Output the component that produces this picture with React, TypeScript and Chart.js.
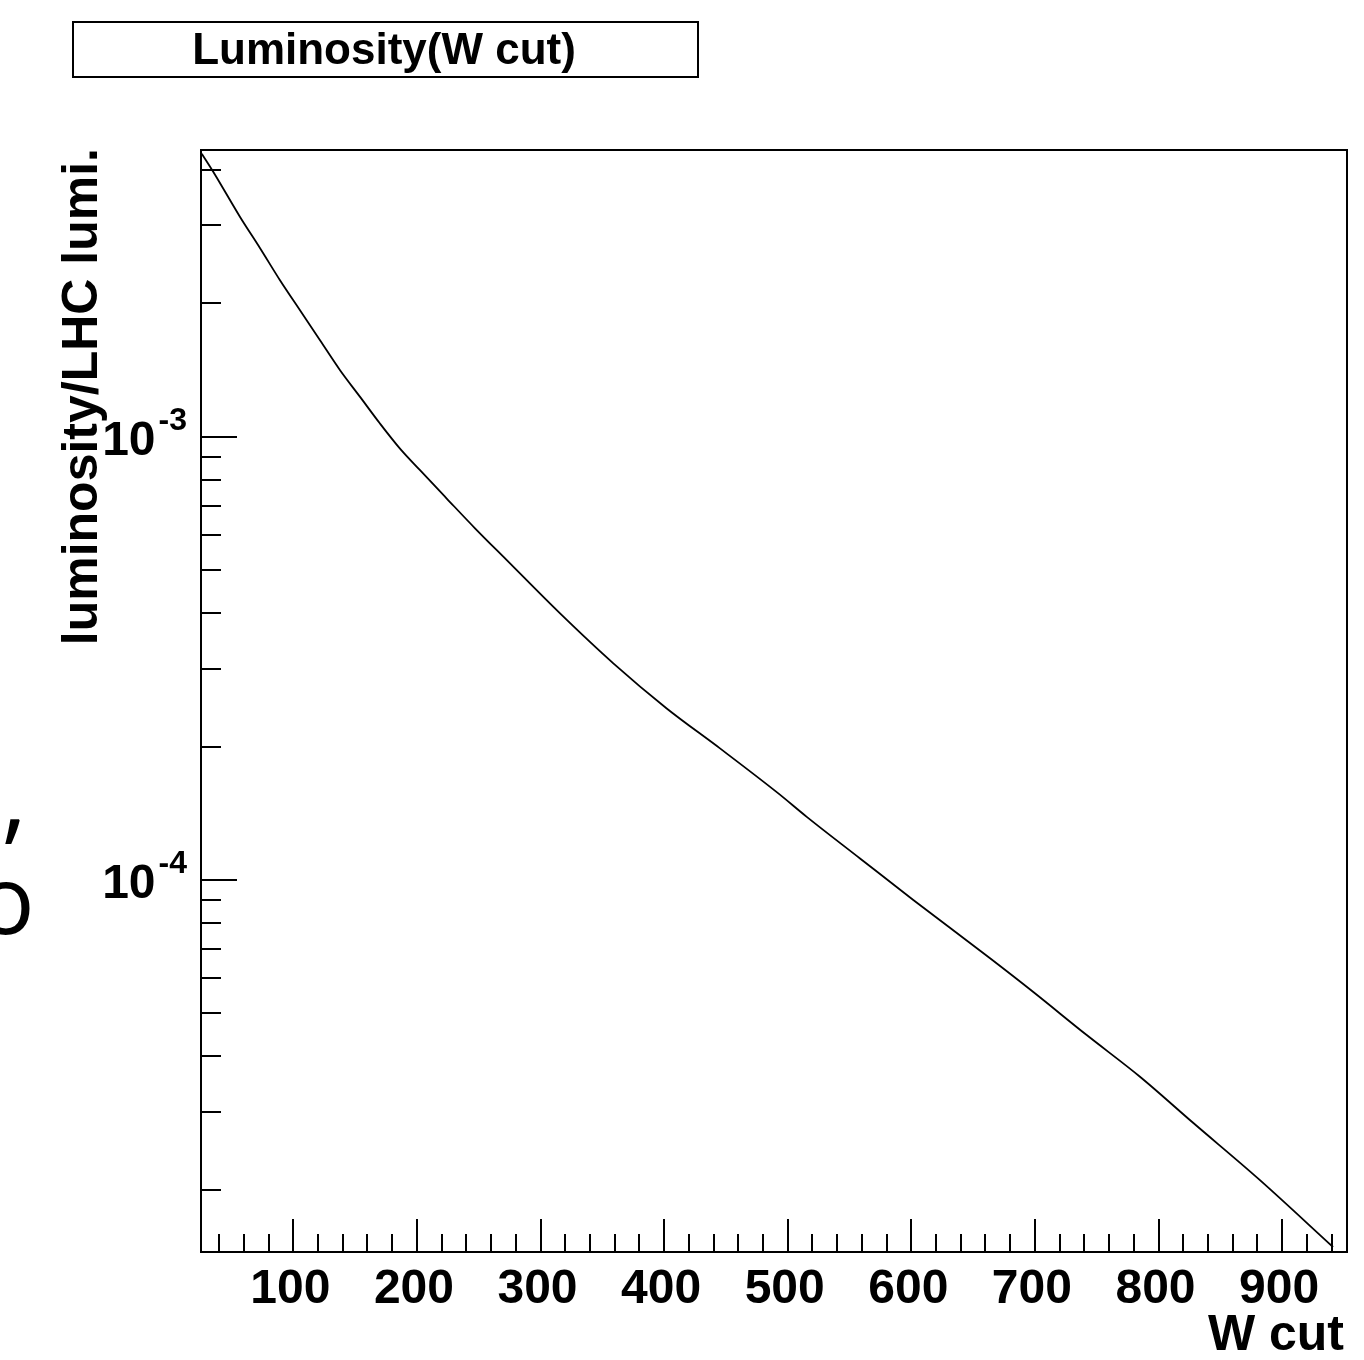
import React, { useEffect, useRef } from 'react';
import { Chart } from 'chart.js/auto';

// ---- data ----
const wCut = [25.9, 35.3, 56.9, 73.1, 89.2, 105.4, 121.6, 137.8, 154, 170.1, 186.3, 202.5, 224.1, 247, 272.7, 315.8, 358.9, 402.1, 445.2, 492.4, 515.4, 558.5, 601.6, 663.7, 698.7, 741.9, 785, 828.2, 880.7, 941.2];
const lumiRatio = [4.356e-3, 3.961e-3, 3.135e-3, 2.665e-3, 2.257e-3, 1.931e-3, 1.652e-3, 1.414e-3, 1.231e-3, 1.072e-3, 9.41e-4, 8.41e-4, 7.26e-4, 6.22e-4, 5.27e-4, 3.996e-4, 3.083e-4, 2.439e-4, 1.982e-4, 1.569e-4, 1.389e-4, 1.119e-4, 9.02e-5, 6.66e-5, 5.59e-5, 4.47e-5, 3.6e-5, 2.83e-5, 2.12e-5, 1.486e-5];

const xMajorTicks = [100, 200, 300, 400, 500, 600, 700, 800, 900];
const xTickLabels = ['100', '200', '300', '400', '500', '600', '700', '800', '900'];
const xMinorStep = 20;
const yDecadeExponents = [-3, -4];
const yMinorDecades = [-5, -4, -3];
const xMin = 25.3;
const xMax = 952.5;
const yMin = 1.448e-5;
const yMax = 4.44e-3;

const titleText = 'Luminosity(W cut)';
const xTitle = 'W cut';
const yTitle = 'luminosity/LHC lumi.';

const FONT = '"Liberation Sans", Arial, Helvetica, sans-serif';

const rootPlugin = {
  id: 'rootStyle',
  afterDraw(chart: any) {
    const ctx = chart.ctx as CanvasRenderingContext2D;
    const ca = chart.chartArea;
    const left = Math.round(ca.left);
    const right = Math.round(ca.right);
    const top = Math.round(ca.top);
    const bottom = Math.round(ca.bottom);
    const xs = chart.scales.x;
    const ys = chart.scales.y;
    ctx.save();
    ctx.strokeStyle = '#000';
    ctx.fillStyle = '#000';
    ctx.lineWidth = 2;
    ctx.lineCap = 'butt';
    // frame
    ctx.strokeRect(left, top, right - left, bottom - top);

    // x ticks
    ctx.beginPath();
    for (const v of xMajorTicks) {
      const px = Math.round(xs.getPixelForValue(v));
      ctx.moveTo(px, bottom);
      ctx.lineTo(px, bottom - 33);
    }
    for (let v = xMinorStep; v < xMax; v += xMinorStep) {
      if (v < xMin || v % 100 === 0) continue;
      const px = Math.round(xs.getPixelForValue(v));
      ctx.moveTo(px, bottom);
      ctx.lineTo(px, bottom - 18);
    }
    // y ticks
    for (const e of yDecadeExponents) {
      const py = Math.round(ys.getPixelForValue(Math.pow(10, e)));
      ctx.moveTo(left, py);
      ctx.lineTo(left + 36, py);
    }
    for (const d of yMinorDecades) {
      for (let m = 2; m <= 9; m++) {
        const v = m * Math.pow(10, d);
        if (v < yMin || v > yMax) continue;
        const py = Math.round(ys.getPixelForValue(v));
        ctx.moveTo(left, py);
        ctx.lineTo(left + 20, py);
      }
    }
    ctx.stroke();

    // x tick labels
    ctx.font = `bold 48px ${FONT}`;
    ctx.textAlign = 'center';
    ctx.textBaseline = 'alphabetic';
    xMajorTicks.forEach((v, i) => {
      const px = xs.getPixelForValue(v);
      ctx.fillText(xTickLabels[i], px - 3, bottom + 51);
    });

    // y tick labels 10^e
    for (const e of yDecadeExponents) {
      const py = ys.getPixelForValue(Math.pow(10, e));
      const sup = String(e);
      ctx.textAlign = 'right';
      ctx.font = `bold 32px ${FONT}`;
      const supRight = left - 14;
      ctx.fillText(sup, supRight, py - 7);
      const supW = ctx.measureText(sup).width;
      ctx.font = `bold 48px ${FONT}`;
      ctx.fillText('10', supRight - supW - 3, py + 18);
    }

    // x title
    ctx.font = `bold 50px ${FONT}`;
    ctx.textAlign = 'right';
    ctx.fillText(xTitle, right - 3, bottom + 98);

    // y title
    ctx.save();
    ctx.translate(97, 148);
    ctx.rotate(-Math.PI / 2);
    ctx.textAlign = 'right';
    ctx.fillText(yTitle, 0, 0);
    ctx.restore();

    // title box
    ctx.lineWidth = 2;
    ctx.strokeRect(73, 22, 625, 55);
    ctx.font = `bold 44px ${FONT}`;
    ctx.textAlign = 'center';
    ctx.fillText(titleText, 384, 64);

    // stray glyphs at the left edge of the picture
    ctx.font = `100px "Open Sans", sans-serif`;
    ctx.textAlign = 'left';
    ctx.fillText('\u2019', 4, 891);
    ctx.font = `96px "Open Sans", sans-serif`;
    ctx.fillText('o', -23, 934);

    ctx.restore();
  },
};

export default function App() {
  const ref = useRef<HTMLCanvasElement | null>(null);
  useEffect(() => {
    if (!ref.current) return;
    const chart = new Chart(ref.current, {
      type: 'line',
      data: {
        datasets: [
          {
            data: wCut.map((x, i) => ({ x, y: lumiRatio[i] })),
            borderColor: '#000',
            borderWidth: 1.8,
            pointRadius: 0,
            fill: false,
            cubicInterpolationMode: 'monotone',
          },
        ],
      },
      options: {
        responsive: false,
        animation: false,
        devicePixelRatio: 1,
        layout: { padding: { left: 201, top: 150, right: 17, bottom: 108 } },
        plugins: { legend: { display: false }, tooltip: { enabled: false }, title: { display: false } },
        scales: {
          x: { type: 'linear', min: xMin, max: xMax, display: false },
          y: { type: 'logarithmic', min: yMin, max: yMax, display: false },
        },
      },
      plugins: [rootPlugin],
    });
    return () => chart.destroy();
  }, []);
  return (
    <div style={{ position: 'absolute', left: 0, top: 0, width: 1364, height: 1360, background: '#fff' }}>
      <canvas ref={ref} width={1364} height={1360} style={{ display: 'block' }} />
    </div>
  );
}
